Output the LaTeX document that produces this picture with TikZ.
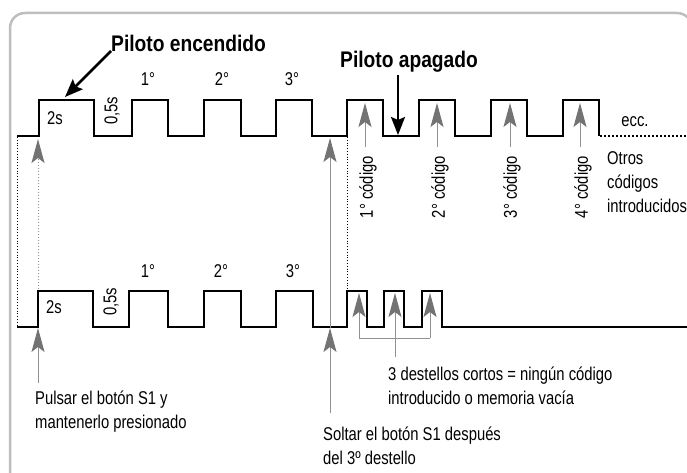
\documentclass[tikz,border=0pt]{standalone}
\usepackage{fontspec}
\setmainfont{Liberation Sans}[FakeStretch=0.8]
\newfontfamily\ttlfont{Liberation Sans}[FakeStretch=0.85]
\usetikzlibrary{arrows.meta}
\definecolor{framegray}{RGB}{190,190,190}
\definecolor{linegray}{RGB}{145,145,145}
\definecolor{headgray}{RGB}{115,115,115}
\tikzset{
  wave/.style={line width=2.5pt, line join=miter},
  guide/.style={dotted, line width=0.8pt},
  garrow/.style={draw=linegray, line width=1pt, -{Stealth[length=24pt,width=13pt,inset=5pt,color=headgray]}},
  gline/.style={draw=linegray, line width=1pt},
  barrow/.style={line width=2.5pt, -{Stealth[length=18pt,width=14pt,inset=3pt]}},
  lbl/.style={inner sep=0pt, font=\fontsize{18.5}{24}\selectfont},
  ttl/.style={inner sep=0pt, font=\ttlfont\bfseries\fontsize{22.6}{26}\selectfont},
}
\begin{document}
\begin{tikzpicture}[x=1pt,y=-1pt]
\useasboundingbox (0,0) rectangle (687,473);
% frame
\draw[framegray, line width=2.5pt, rounded corners=15] (10,474) -- (10,13) -- (692,13) -- (692,474);
% top waveform
\draw[wave] (17,136) -- (39,136) -- (39,100) -- (94,100) -- (94,136) -- (132,136) -- (132,100) -- (168,100) -- (168,136)
  -- (204,136) -- (204,100) -- (241,100) -- (241,136) -- (276,136) -- (276,100) -- (312,100) -- (312,136)
  -- (347,136) -- (347,100) -- (383,100) -- (383,136) -- (419,136) -- (419,100) -- (455,100) -- (455,136)
  -- (491,136) -- (491,100) -- (527,100) -- (527,136) -- (563,136) -- (563,100) -- (599,100) -- (599,136);
\draw[line width=2pt, dotted] (600,136) -- (687,136);
% bottom waveform
\draw[wave] (17,327) -- (38,327) -- (38,291) -- (93,291) -- (93,327) -- (129,327) -- (129,291) -- (168,291) -- (168,327)
  -- (204,327) -- (204,291) -- (241,291) -- (241,327) -- (276,327) -- (276,291) -- (313,291) -- (313,327)
  -- (347,327) -- (347,291) -- (367,291) -- (367,327) -- (384,327) -- (384,291) -- (404,291) -- (404,327)
  -- (422,327) -- (422,291) -- (442,291) -- (442,327) -- (687,327);
% guide lines
\coordinate (gA1) at (17,137); \coordinate (gA2) at (17,326);
\coordinate (gB1) at (347,137); \coordinate (gB2) at (347,292);
\draw[guide] (gA1) -- (gA2);
\draw[guide] (gB1) -- (gB2);
% titles
\node[ttl, anchor=base west] (enc) at (111,52) {Piloto encendido};
\node[ttl, anchor=base west] (apa) at (340,68) {Piloto apagado};
\coordinate (encT) at (111,51); \coordinate (encH) at (65,97);
\coordinate (apaT) at (398,75); \coordinate (apaH) at (398,135);
\draw[barrow] (encT) -- (encH);
\draw[barrow] (apaT) -- (apaH);
% top labels
\node[lbl, anchor=base] (t2s) at (55,125) {2s};
\node[lbl, rotate=90] (t05) at (112,111) {0,5s};
\node[lbl, anchor=base] (t1) at (148,86) {1°};
\node[lbl, anchor=base] (t2) at (222,86) {2°};
\node[lbl, anchor=base] (t3) at (292,86) {3°};
\node[lbl, anchor=base] (ecc) at (635,127) {ecc.};
\node[lbl, anchor=base west, align=left] (otros) at (607,212) {Otros\\códigos\\introducidos};
% bottom labels
\node[lbl, anchor=base] (b2s) at (54,313) {2s};
\node[lbl, rotate=90] (b05) at (111,302) {0,5s};
\node[lbl, anchor=base] (b1) at (148,277) {1°};
\node[lbl, anchor=base] (b2) at (221,277) {2°};
\node[lbl, anchor=base] (b3) at (293,277) {3°};
% code labels and arrows
\node[lbl, rotate=90, anchor=east] (c1) at (368,156) {1° código};
\node[lbl, rotate=90, anchor=east] (c2) at (440,156) {2° código};
\node[lbl, rotate=90, anchor=east] (c3) at (512,156) {3° código};
\node[lbl, rotate=90, anchor=east] (c4) at (583,156) {4° código};
\foreach \n/\x in {1/365,2/437,3/510,4/580}{
  \coordinate (cT\n) at (\x,147); \coordinate (cH\n) at (\x,103);
  \draw[garrow] (cT\n) -- (cH\n);
}
% left press arrow (dotted)
\coordinate (pT) at (38,289); \coordinate (pH) at (38,139);
\draw[garrow, dotted] (pT) -- (pH);
% Pulsar
\node[lbl, anchor=base west, align=left] (pulsar) at (35,428) {Pulsar el botón S1 y\\mantenerlo presionado};
\coordinate (puT) at (38,383); \coordinate (puH) at (38,328);
\draw[garrow] (puT) -- (puH);
% Soltar
\node[lbl, anchor=base west, align=left] (soltar) at (323,464) {Soltar el botón S1 después\\del 3º destello};
\coordinate (sT) at (330,413); \coordinate (sH1) at (330,328); \coordinate (sH2) at (330,138);
\draw[garrow] (sT) -- (sH1);
\draw[garrow] (sH1) -- (sH2);
% short flashes
\coordinate (f1T) at (359,338); \coordinate (f1H) at (359,293);
\coordinate (f2T) at (395,357); \coordinate (f2H) at (395,293);
\coordinate (f3T) at (430,338); \coordinate (f3H) at (430,293);
\draw[gline] (f1T) -- (f3T);
\draw[garrow] (f1T) -- (f1H);
\draw[garrow] (f2T) -- (f2H);
\draw[garrow] (f3T) -- (f3H);
\node[lbl, anchor=base west, align=left] (tres) at (388,404) {3 destellos cortos = ningún código\\introducido o memoria vacía};
\end{tikzpicture}
\end{document}
